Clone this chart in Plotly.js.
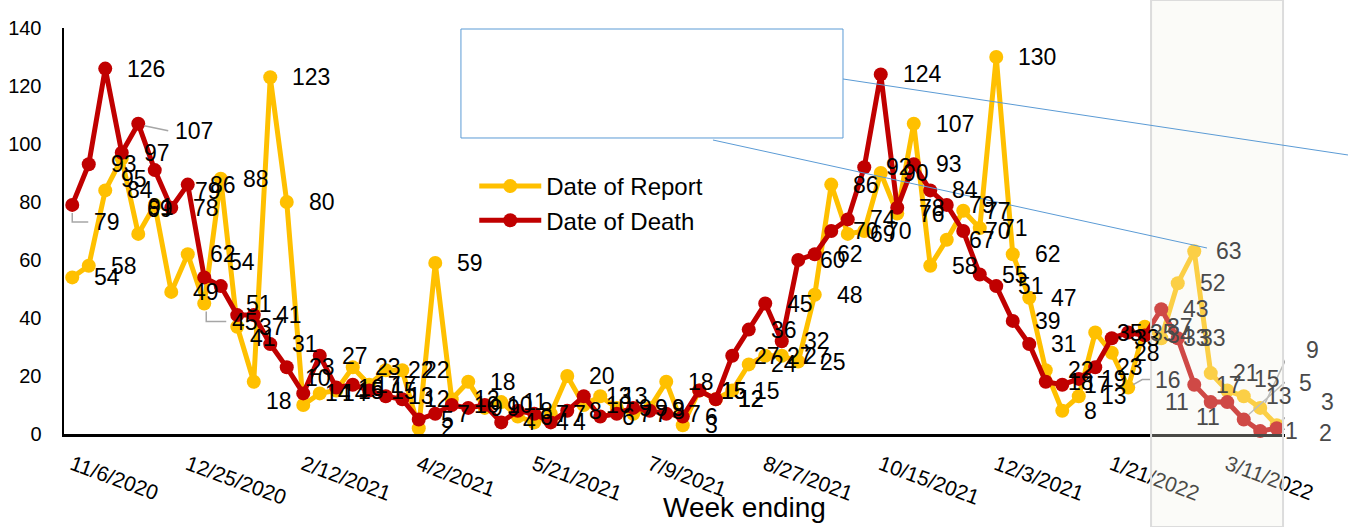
<!DOCTYPE html>
<html>
<head>
<meta charset="utf-8">
<script src="https://cdn.plot.ly/plotly-3.0.1.min.js"></script>
<style>
  html, body { margin: 0; padding: 0; background: #ffffff; }
  #chart { width: 1348px; height: 527px; }
</style>
</head>
<body>
<div id="chart"></div>
<script>
// Week-ending categories
const categories = [
  '11/6/2020','11/13/2020','11/20/2020','11/27/2020','12/4/2020','12/11/2020','12/18/2020',
  '12/25/2020','1/1/2021','1/8/2021','1/15/2021','1/22/2021','1/29/2021','2/5/2021',
  '2/12/2021','2/19/2021','2/26/2021','3/5/2021','3/12/2021','3/19/2021','3/26/2021',
  '4/2/2021','4/9/2021','4/16/2021','4/23/2021','4/30/2021','5/7/2021','5/14/2021',
  '5/21/2021','5/28/2021','6/4/2021','6/11/2021','6/18/2021','6/25/2021','7/2/2021',
  '7/9/2021','7/16/2021','7/23/2021','7/30/2021','8/6/2021','8/13/2021','8/20/2021',
  '8/27/2021','9/3/2021','9/10/2021','9/17/2021','9/24/2021','10/1/2021','10/8/2021',
  '10/15/2021','10/22/2021','10/29/2021','11/5/2021','11/12/2021','11/19/2021','11/26/2021',
  '12/3/2021','12/10/2021','12/17/2021','12/24/2021','12/31/2021','1/7/2022','1/14/2022',
  '1/21/2022','1/28/2022','2/4/2022','2/11/2022','2/18/2022','2/25/2022','3/4/2022',
  '3/11/2022','3/18/2022','3/25/2022','4/1/2022'
];

// Series values
const dateOfReport = [
  54, 58, 84, 95, 69, 79, 49, 62, 45, 88,
  37, 18, 123, 80, 10, 14, 15, 23, 17, 22,
  22, 2, 59, 12, 18, 9, 11, 6, 4, 7,
  20, 10, 13, 9, 7, 9, 18, 3, 15, 12,
  15, 24, 27, 27, 25, 48, 86, 69, 70, 90,
  76, 107, 58, 67, 77, 71, 130, 62, 47, 22,
  8, 13, 35, 28, 16, 37, 33, 52, 63, 21,
  15, 13, 9, 3
];
const dateOfDeath = [
  79, 93, 126, 97, 107, 91, 78, 86, 54, 51,
  41, 41, 31, 23, 14, 27, 16, 17, 15, 13,
  12, 5, 7, 10, 9, 10, 4, 8, 7, 4,
  8, 13, 6, 7, 9, 8, 7, 6, 15, 12,
  27, 36, 45, 32, 60, 62, 70, 74, 92, 124,
  78, 93, 84, 79, 70, 55, 51, 39, 31, 18,
  17, 19, 23, 33, 35, 34, 43, 33, 17, 11,
  11, 5, 1, 2
];

// Tick labels shown on the x axis
const tickLabels = ['11/6/2020','12/25/2020','2/12/2021','4/2/2021','5/21/2021','7/9/2021',
  '8/27/2021','10/15/2021','12/3/2021','1/21/2022','3/11/2022'];

const yTicks = [0, 20, 40, 60, 80, 100, 120, 140];

const seriesNames = ['Date of Report', 'Date of Death'];
const seriesColors = ['#FFC000', '#C00000'];

const FONT = 'Liberation Sans, Arial, sans-serif';
const SHADE_START = 64; // labels from this index sit under the grey overlay

// Label placement tweaks (pixel shifts: dx, dy up-positive, optional anchor)
const labelMoves = {
  'D0': [20, -17], 'D4': [35, -7], 'R3': [-3, -20], 'R4': [7, 25],
  'R5': [38, 14], 'D5': [-9, -37],
  'R8': [26, -18], 'D8': [23, 15], 'D9': [23, -18], 'D10': [11, -23],
  'R11': [10, -19], 'R14': [0, 27],
  'R64': [25, 8], 'D69': [-20, 0, 'right'], 'D70': [-5, -15, 'right'],
  'R70': [25, 12], 'R72': [44, 58], 'D71': [53, 37], 'R73': [42, 23],
  'D72': [23, 0], 'D73': [40, -5]
};

// Leader lines for moved labels: [series key, pixel path relative to the point]
const leaderLines = [
  ['D0', 'M0,-8 L0,-17 L16,-17'],
  ['D4', 'M6,-2 L30,-7'],
  ['R8', 'M2,-8 L2,-18 L22,-18'],
  ['R64', 'M5,3 L14,8 L22,8'],
  ['R72', 'M5,5 L30,58 L41,58'],
  ['D71', 'M5,5 L41,37 L50,37'],
  ['R73', 'M5,5 L28,23 L39,23'],
  ['D73', 'M7,-1 L37,-5']
];

const traces = [dateOfReport, dateOfDeath].map((vals, k) => ({
  type: 'scatter',
  mode: 'lines+markers',
  name: seriesNames[k],
  x: categories,
  y: vals,
  line: { color: seriesColors[k], width: 5 },
  marker: { color: seriesColors[k], size: 14 },
  cliponaxis: false,
  hoverinfo: 'x+y+name'
}));

// Data labels built from the same arrays
const annotations = [];
[dateOfReport, dateOfDeath].forEach((vals, k) => {
  const key = k === 0 ? 'R' : 'D';
  vals.forEach((v, i) => {
    const mv = labelMoves[key + i] || [20, 0];
    annotations.push({
      x: categories[i], y: v, xref: 'x', yref: 'y',
      text: String(v), showarrow: false,
      xanchor: mv[2] || 'left', yanchor: 'middle', xshift: mv[0], yshift: mv[1],
      font: { family: FONT, size: 23, color: i >= SHADE_START ? '#4a4a4a' : '#000000' }
    });
  });
});

// Axis title as text under the axis
annotations.push({
  text: 'Week ending', xref: 'paper', yref: 'paper',
  x: 0.5577, y: -0.182, xanchor: 'center', yanchor: 'middle', showarrow: false,
  font: { family: FONT, size: 28, color: '#000000' }
});

const shapes = [];
leaderLines.forEach(([key, path]) => {
  const vals = key[0] === 'R' ? dateOfReport : dateOfDeath;
  const i = parseInt(key.slice(1), 10);
  shapes.push({
    type: 'path', xref: 'x', yref: 'y',
    xsizemode: 'pixel', ysizemode: 'pixel',
    xanchor: categories[i], yanchor: vals[i],
    path: path,
    line: { color: '#a6a6a6', width: 1.5 }, layer: 'above'
  });
});

shapes.push(
  // Callout box
  { type: 'rect', xref: 'paper', yref: 'paper', x0: 0.3251, x1: 0.6380, y0: 0.7291, y1: 0.9975,
    line: { color: '#5B9BD5', width: 1 }, fillcolor: '#ffffff', layer: 'above' },
  // Highlight overlay on the last weeks
  { type: 'rect', xref: 'paper', yref: 'paper', x0: 0.8903, x1: 0.9984, y0: -0.229, y1: 1.069,
    line: { color: '#dcdcdc', width: 2 }, fillcolor: 'rgba(242,242,232,0.3)', layer: 'above' },
  // Callout connector lines
  { type: 'line', xref: 'paper', yref: 'paper', x0: 0.6380, y0: 0.8744, x1: 1.0516, y1: 0.6872,
    line: { color: '#5B9BD5', width: 1 }, layer: 'above' },
  { type: 'line', xref: 'paper', yref: 'paper', x0: 0.5315, y0: 0.7241, x1: 0.9361, y1: 0.4581,
    line: { color: '#5B9BD5', width: 1 }, layer: 'above' }
);

const layout = {
  width: 1348, height: 527,
  margin: { l: 64, r: 63, t: 28, b: 93, pad: 0 },
  paper_bgcolor: '#ffffff', plot_bgcolor: '#ffffff',
  font: { family: FONT, size: 20, color: '#000000' },
  showlegend: true,
  legend: {
    x: 0.336, y: 0.665, xanchor: 'left', yanchor: 'top',
    bgcolor: 'rgba(0,0,0,0)', borderwidth: 0,
    font: { family: FONT, size: 24, color: '#000000' },
    itemwidth: 62, tracegroupgap: 0
  },
  xaxis: {
    type: 'category',
    categoryorder: 'array', categoryarray: categories,
    range: [-0.5, categories.length - 0.5],
    tickmode: 'array', tickvals: tickLabels, ticktext: tickLabels,
    tickangle: 20,
    tickfont: { family: FONT, size: 21, color: '#000000' },
    ticks: '', showgrid: false, zeroline: false,
    showline: true, linecolor: '#000000', linewidth: 2.5,
    ticklabelstandoff: 8,
    fixedrange: true
  },
  yaxis: {
    range: [0, 140],
    tickmode: 'array', tickvals: yTicks, ticktext: yTicks.map(String),
    tickfont: { family: FONT, size: 20, color: '#000000' },
    ticks: '', showgrid: false, zeroline: false,
    showline: true, linecolor: '#000000', linewidth: 2.5,
    ticklabelstandoff: 16,
    fixedrange: true
  },
  annotations: annotations,
  shapes: shapes
};

Plotly.newPlot('chart', traces, layout, { displayModeBar: false, staticPlot: true });
</script>
</body>
</html>
